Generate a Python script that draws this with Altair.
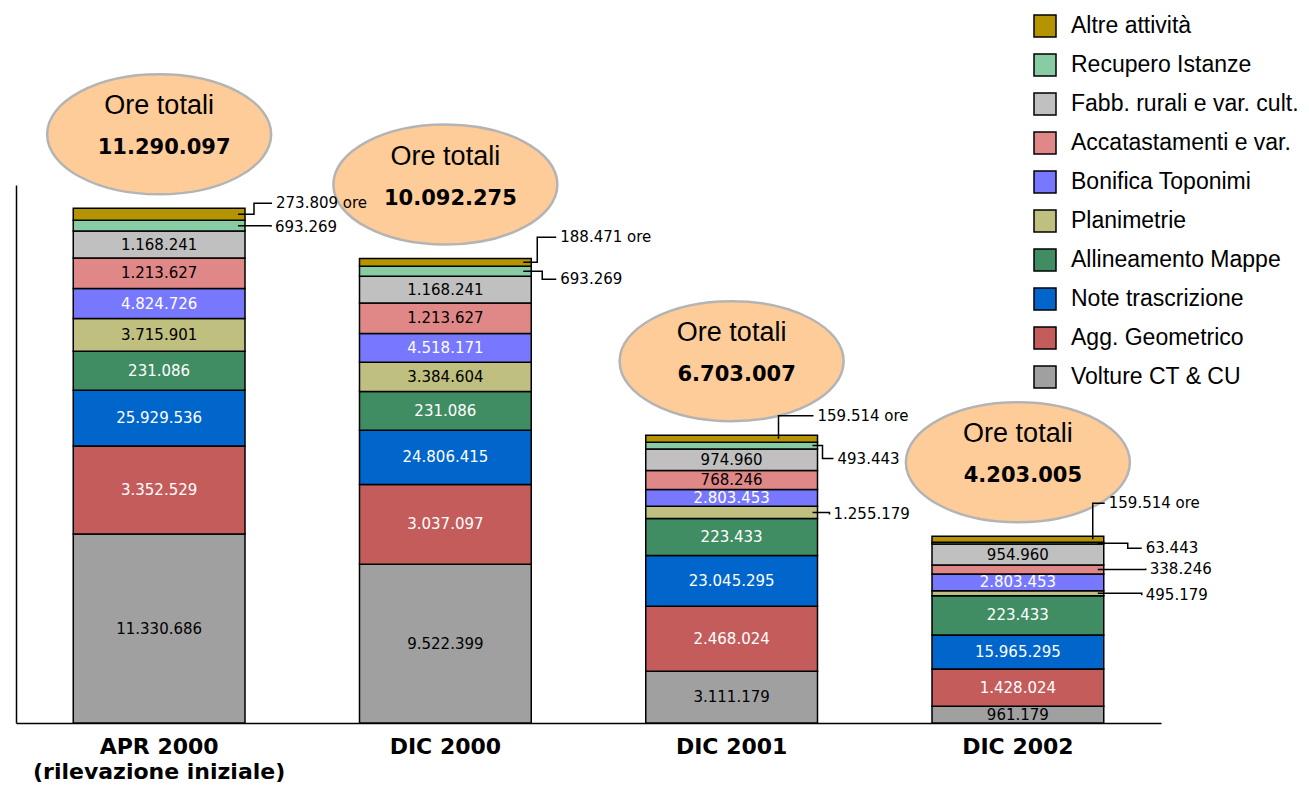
import altair as alt
import pandas as pd

# ---------------- data ----------------
categories = ["APR 2000\n(rilevazione iniziale)", "DIC 2000", "DIC 2001", "DIC 2002"]

activities = ["Volture CT & CU", "Agg. Geometrico", "Note trascrizione",
              "Allineamento Mappe", "Planimetrie", "Bonifica Toponimi",
              "Accatastamenti e var.", "Fabb. rurali e var. cult.",
              "Recupero Istanze", "Altre attività"]

colors = ["#A0A0A0", "#C45C5C", "#0066CC", "#408D64", "#BFBF80",
          "#7878FF", "#E08888", "#C0C0C0", "#88CCA4", "#B49400"]

# segment heights as drawn in the chart (relative units), bottom to top
h_apr2000 = [189.0, 88.0, 55.7, 39.0, 32.7, 30.0, 30.6, 27.0, 10.7, 12.0]
h_dic2000 = [158.7, 79.7, 54.3, 38.7, 29.3, 28.7, 30.7, 26.7, 10.0, 7.7]
h_dic2001 = [51.7, 65.0, 50.7, 37.0, 12.3, 16.7, 19.0, 21.7, 6.7, 7.0]
h_dic2002 = [16.7, 37.3, 34.0, 39.3, 5.0, 16.7, 9.0, 21.0, 1.7, 6.0]

# value labels printed on the segments, bottom to top
lab_apr2000 = ["11.330.686", "3.352.529", "25.929.536", "231.086", "3.715.901",
               "4.824.726", "1.213.627", "1.168.241", "693.269", "273.809 ore"]
lab_dic2000 = ["9.522.399", "3.037.097", "24.806.415", "231.086", "3.384.604",
               "4.518.171", "1.213.627", "1.168.241", "693.269", "188.471 ore"]
lab_dic2001 = ["3.111.179", "2.468.024", "23.045.295", "223.433", "1.255.179",
               "2.803.453", "768.246", "974.960", "493.443", "159.514 ore"]
lab_dic2002 = ["961.179", "1.428.024", "15.965.295", "223.433", "495.179",
               "2.803.453", "338.246", "954.960", "63.443", "159.514 ore"]

totals = ["11.290.097", "10.092.275", "6.703.007", "4.203.005"]

# ---------------- layout ----------------
W, H = 1145, 538
STEP = W / 4.0
BAR_L, BAR_R = 0.2, 0.8
dark_label = {"Agg. Geometrico", "Note trascrizione", "Allineamento Mappe", "Bonifica Toponimi"}

# callout leaders: (bar, activity index, start dx, knee dx, dy, end dx) in px from bar right edge
callouts = [
    (0, 9, -7, 9, -11, 27),
    (0, 8, -7, 26, 1, 26),
    (1, 9, -8, 6, -25, 25),
    (1, 8, -8, 11, 8, 25),
    (2, 9, -39, -39, -23, -4),
    (2, 8, -5, 5, 13, 16),
    (2, 4, -5, 12, 2, 12),
    (3, 9, -11, -11, -36, 1),
    (3, 8, -6, 24, 5, 38),
    (3, 6, -6, 42, -1, 42),
    (3, 4, -6, 38, 2, 38),
]

heights = [h_apr2000, h_dic2000, h_dic2001, h_dic2002]
labels = [lab_apr2000, lab_dic2000, lab_dic2001, lab_dic2002]
callout_keys = {(c[0], c[1]) for c in callouts}

rows = []
for ci, cat in enumerate(categories):
    base = 0.0
    for ai, act in enumerate(activities):
        h = heights[ci][ai]
        rows.append(dict(cat=cat, ci=ci, act=act, ai=ai, h=h,
                         label=labels[ci][ai], y0=base, y1=base + h,
                         yc=base + h / 2, xl=ci + BAR_L, xr=ci + BAR_R, xc=ci + 0.5,
                         tc="white" if act in dark_label else "black",
                         inside=(ci, ai) not in callout_keys))
        base += h
df = pd.DataFrame(rows)

tot_df = pd.DataFrame(dict(ci=list(range(4)), total=[sum(h) for h in heights],
                           tlabel=totals, xc=[i + 0.5 for i in range(4)]))
cat_df = pd.DataFrame(dict(cat=categories, xc=[i + 0.5 for i in range(4)], y=[0] * 4))

pts, ctext = [], []
for k, (ci, ai, x0, kx, dy, ex) in enumerate(callouts):
    r = df[(df.ci == ci) & (df.ai == ai)].iloc[0]
    xr, yc = r.xr, r.yc
    for p, (dxp, yy) in enumerate([(x0, yc), (kx, yc), (kx, yc - dy), (ex, yc - dy)]):
        pts.append(dict(cid=k, p=p, x=xr + dxp / STEP, y=yy))
    ctext.append(dict(x=xr + (ex + 4) / STEP, y=yc - dy, label=r.label))
pts_df = pd.DataFrame(pts)
ct_df = pd.DataFrame(ctext)

XS = alt.Scale(domain=[0, 4], nice=False, zero=False)
YS = alt.Scale(domain=[0, H], nice=False, zero=False)
AX = alt.Axis(labels=False, ticks=False, grid=False, domain=True,
              domainColor="black", domainWidth=1.5, title=None)


def X(f):
    return alt.X(f, scale=XS, axis=AX, title=None)


def Y(f):
    return alt.Y(f, scale=YS, axis=AX, title=None)


bars = alt.Chart(df).mark_bar(stroke="black", strokeWidth=1.5).encode(
    x=X("xl:Q"), x2="xr:Q",
    y=Y("y0:Q"), y2="y1:Q",
    color=alt.Color("act:N",
                    scale=alt.Scale(domain=activities[::-1], range=colors[::-1]),
                    legend=alt.Legend(title=None, orient="none", direction="vertical",
                                      legendX=1017, legendY=-171,
                                      symbolType="square", symbolSize=484,
                                      symbolStrokeColor="black", symbolStrokeWidth=1.5,
                                      symbolOpacity=1, labelFont="Liberation Sans",
                                      labelFontSize=23, labelColor="black",
                                      labelOffset=14, rowPadding=11, padding=0,
                                      labelLimit=400)),
)

seg_text = alt.Chart(df).transform_filter("datum.inside && datum.h >= 14").mark_text(
    font="DejaVu Sans", fontSize=15, align="center", baseline="middle"
).encode(
    x=X("xc:Q"), y=Y("yc:Q"),
    text="label:N",
    color=alt.Color("tc:N", scale=None),
)

leaders = alt.Chart(pts_df).mark_line(color="black", strokeWidth=1.5).encode(
    x=X("x:Q"), y=Y("y:Q"),
    detail="cid:N",
    order="p:Q",
)

call_text = alt.Chart(ct_df).mark_text(
    font="DejaVu Sans", fontSize=15, align="left", baseline="middle", color="black"
).encode(
    x=X("x:Q"), y=Y("y:Q"),
    text="label:N",
)

ELLIPSE = "M -1 0 A 1 0.536 0 1 1 1 0 A 1 0.536 0 1 1 -1 0 Z"
bubbles = alt.Chart(tot_df).mark_point(
    shape=ELLIPSE, size=224 * 224, filled=True, fill="#FECC99", fillOpacity=1,
    stroke="#B4B4B4", strokeWidth=2.5, opacity=1, yOffset=-74
).encode(
    x=X("xc:Q"), y=Y("total:Q"),
)

bub_t1 = alt.Chart(tot_df).mark_text(
    font="Liberation Sans", fontSize=27, align="center", baseline="middle",
    color="black", dy=-102
).encode(
    x=X("xc:Q"), y=Y("total:Q"),
    text=alt.value("Ore totali"),
)

bub_t2 = alt.Chart(tot_df).mark_text(
    font="DejaVu Sans", fontSize=21, fontWeight="bold", align="center",
    baseline="middle", color="black", dy=-60, dx=5
).encode(
    x=X("xc:Q"), y=Y("total:Q"),
    text="tlabel:N",
)

cat_text = alt.Chart(cat_df).mark_text(
    font="DejaVu Sans", fontSize=22, fontWeight="bold", align="center",
    baseline="top", color="black", dy=14, lineBreak="\n", lineHeight=25
).encode(
    x=X("xc:Q"), y=Y("y:Q"),
    text="cat:N",
)

chart = alt.layer(
    bars, bubbles, bub_t1, bub_t2, seg_text, leaders, call_text, cat_text
).properties(
    width=W, height=H,
    autosize=alt.AutoSizeParams(type="none"),
    padding={"left": 8, "top": 177, "right": 140, "bottom": 62},
    background="white",
).configure_view(stroke=None)

chart.save("out.html", embed_options={"renderer": "svg", "actions": False})
